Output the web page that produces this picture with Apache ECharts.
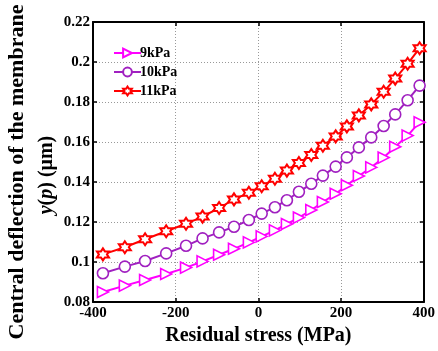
<!DOCTYPE html>
<html>
<head>
<meta charset="utf-8">
<script src="https://cdn.jsdelivr.net/npm/echarts@6/dist/echarts.min.js"></script>
<style>
  html, body { margin: 0; padding: 0; background: #fff; }
  #chart { width: 438px; height: 351px; }
</style>
</head>
<body>
<div id="chart"></div>
<script>
// residual stress (MPa) at each marker
const stress = [-376, -323, -274, -223, -175, -135, -95, -59, -23, 8, 40, 69, 98, 128, 156, 187, 214, 243, 273, 303, 331, 361, 390];
// central deflection y(p) in um
const p9 = [0.0850, 0.0882, 0.0910, 0.0940, 0.0972, 0.1003, 0.1036, 0.1066, 0.1098, 0.1128, 0.1158, 0.1190, 0.1222, 0.1260, 0.1300, 0.1341, 0.1384, 0.1430, 0.1473, 0.1522, 0.1576, 0.1632, 0.1699];
const p10 = [0.0944, 0.0977, 0.1005, 0.1043, 0.1081, 0.1118, 0.1148, 0.1176, 0.1210, 0.1242, 0.1274, 0.1309, 0.1351, 0.1391, 0.1432, 0.1477, 0.1523, 0.1573, 0.1623, 0.1680, 0.1738, 0.1809, 0.1882];
const p11 = [0.1038, 0.1074, 0.1114, 0.1154, 0.1191, 0.1227, 0.1270, 0.1313, 0.1346, 0.1379, 0.1416, 0.1457, 0.1495, 0.1535, 0.1581, 0.1628, 0.1678, 0.1733, 0.1788, 0.1851, 0.1917, 0.1991, 0.2069];
const seriesNames = ['9kPa', '10kPa', '11kPa'];

const font = '"Liberation Serif", "Times New Roman", serif';
const hexagram = 'path://M50 0L35.57 25L6.7 25L21.13 50L6.7 75L35.57 75L50 100L64.43 75L93.3 75L78.87 50L93.3 25L64.43 25Z';

const pairs = (ys) => stress.map((x, i) => [x, ys[i]]);

const chart = echarts.init(document.getElementById('chart'));

const dotted = { show: true, lineStyle: { color: '#999', type: [1, 2], width: 1 } };
const frame = { show: true, onZero: false, lineStyle: { color: '#000', width: 2 } };
const ticks = { show: true, inside: true, length: 4, lineStyle: { color: '#000', width: 1.5 } };

const option = {
  animation: false,
  backgroundColor: '#fff',
  grid: { left: 93, right: 10, top: 22, bottom: 47 },
  legend: {
    orient: 'vertical',
    left: 108,
    top: 41,
    itemWidth: 27,
    itemHeight: 11,
    itemGap: 5,
    data: seriesNames,
    textStyle: { fontFamily: font, fontWeight: 'bold', fontSize: 14, color: '#000', padding: [0, 0, 0, -6] }
  },
  xAxis: [
    {
      type: 'value', min: -400, max: 400, interval: 200,
      axisLine: frame, axisTick: ticks,
      axisLabel: { color: '#000', fontFamily: font, fontWeight: 'bold', fontSize: 15, margin: 4 },
      splitLine: dotted,
      name: 'Residual stress (MPa)', nameLocation: 'middle', nameGap: 24,
      nameTextStyle: { color: '#000', fontFamily: font, fontWeight: 'bold', fontSize: 20 }
    },
    {
      type: 'value', position: 'top', min: -400, max: 400, interval: 200,
      axisLine: frame, axisTick: ticks,
      axisLabel: { show: false }, splitLine: { show: false }
    }
  ],
  yAxis: [
    {
      type: 'value', min: 0.08, max: 0.22, interval: 0.02,
      axisLine: frame, axisTick: ticks,
      axisLabel: { color: '#000', fontFamily: font, fontWeight: 'bold', fontSize: 15, margin: 3,
        formatter: (v) => String(+v.toFixed(2)) },
      splitLine: dotted
    },
    {
      type: 'value', position: 'right', min: 0.08, max: 0.22, interval: 0.02,
      axisLine: frame, axisTick: ticks,
      axisLabel: { show: false }, splitLine: { show: false }
    }
  ],
  graphic: [
    {
      type: 'text', x: 17, y: 172, rotation: Math.PI / 2,
      style: {
        text: 'Central deflection of the membrane',
        fontFamily: font, fontWeight: 'bold', fontSize: 22, fill: '#000',
        align: 'center', verticalAlign: 'middle'
      }
    },
    {
      type: 'text', x: 47, y: 175, rotation: Math.PI / 2,
      style: {
        text: '{i|y}({i|p}) (μm)',
        fontFamily: font, fontWeight: 'bold', fontSize: 20, fill: '#000',
        align: 'center', verticalAlign: 'middle',
        rich: { i: { fontFamily: font, fontWeight: 'bold', fontStyle: 'italic', fontSize: 20 } }
      }
    }
  ],
  series: [
    {
      name: seriesNames[0], type: 'line', data: pairs(p9),
      symbol: 'triangle', symbolRotate: -90, symbolSize: 11,
      lineStyle: { color: '#ff00ff', width: 2 },
      itemStyle: { color: '#fff', borderColor: '#ff00ff', borderWidth: 1.6 }
    },
    {
      name: seriesNames[1], type: 'line', data: pairs(p10),
      symbol: 'circle', symbolSize: 11,
      lineStyle: { color: '#a020c0', width: 2 },
      itemStyle: { color: '#fff', borderColor: '#a020c0', borderWidth: 1.6 }
    },
    {
      name: seriesNames[2], type: 'line', data: pairs(p11),
      symbol: hexagram, symbolSize: 12,
      lineStyle: { color: '#ff0000', width: 2 },
      itemStyle: { color: '#fff', borderColor: '#ff0000', borderWidth: 2 }
    }
  ]
};

chart.setOption(option);
</script>
</body>
</html>
